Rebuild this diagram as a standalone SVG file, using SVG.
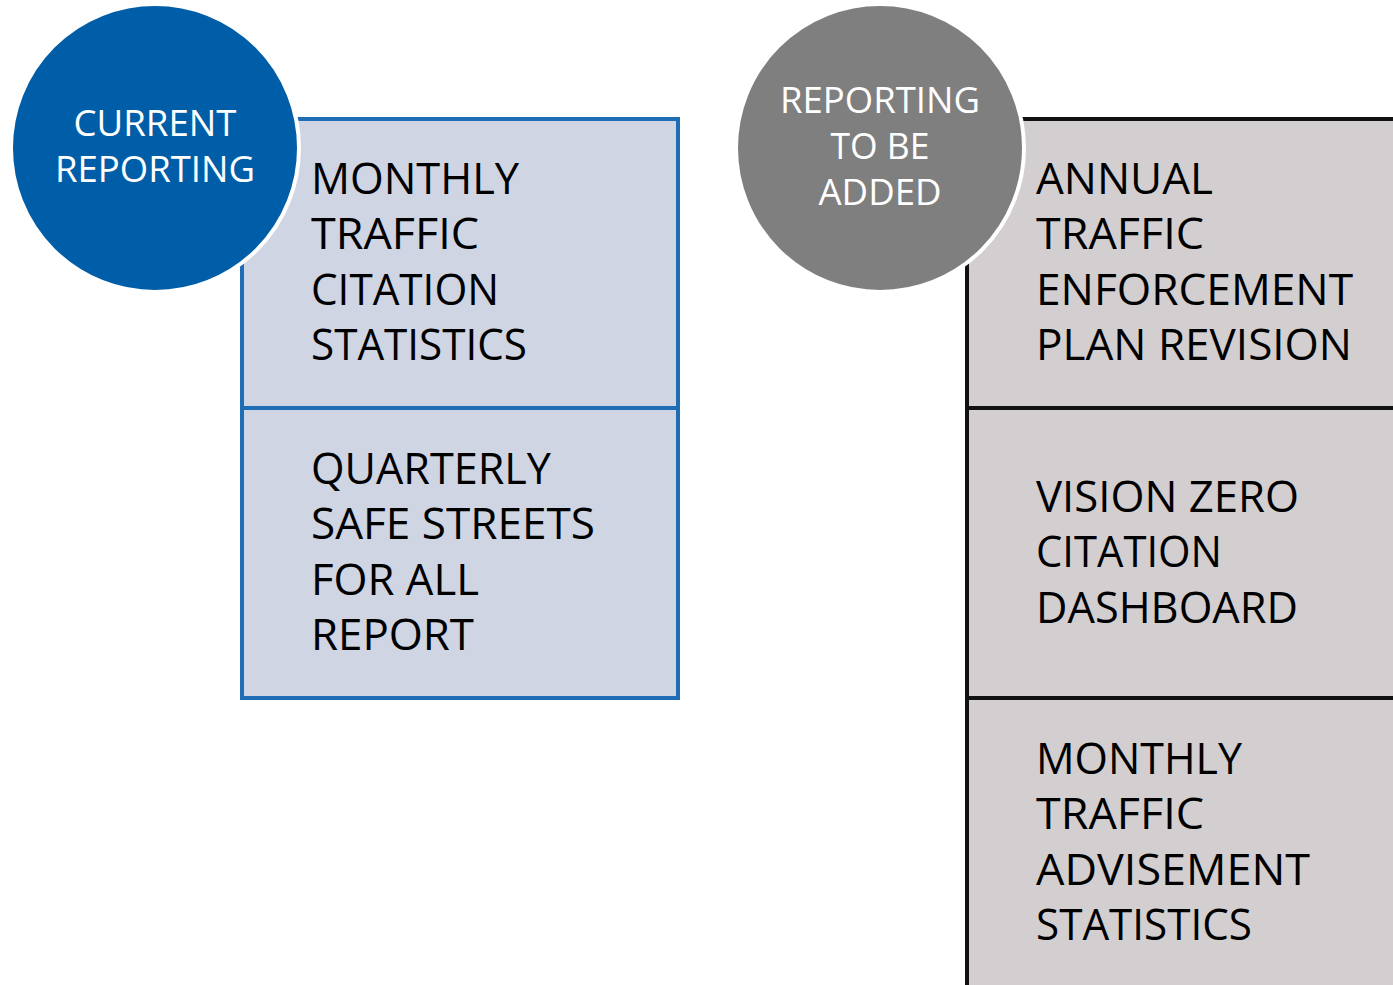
<svg xmlns="http://www.w3.org/2000/svg" width="1393" height="985" viewBox="0 0 1393 985">
<style>
.box-l{fill:#CFD5E3;stroke:#1F6EB5;stroke-width:4}
.box-r{fill:#D3CFD0;stroke:#111;stroke-width:4}
.t{font-family:"Open Sans","Liberation Sans",sans-serif;font-size:44px;fill:#000}
.c{font-family:"Open Sans","Liberation Sans",sans-serif;font-size:36px;fill:#fff;text-anchor:middle}
.circ{stroke:#fff;stroke-width:4}
</style>
<rect width="1393" height="985" fill="#fff"/>
<g id="connectors"/>
<g id="box-monthly-citation">
<rect class="box-l" x="242" y="119" width="436" height="289"/>
<text class="t"><tspan x="311" y="194" textLength="208" lengthAdjust="spacingAndGlyphs">MONTHLY</tspan><tspan x="311" y="249" textLength="168" lengthAdjust="spacingAndGlyphs">TRAFFIC</tspan><tspan x="311" y="305" textLength="188" lengthAdjust="spacingAndGlyphs">CITATION</tspan><tspan x="311" y="360" textLength="216" lengthAdjust="spacingAndGlyphs">STATISTICS</tspan></text>
</g>
<g id="box-quarterly">
<rect class="box-l" x="242" y="408" width="436" height="290"/>
<text class="t"><tspan x="311" y="484" textLength="240" lengthAdjust="spacingAndGlyphs">QUARTERLY</tspan><tspan x="311" y="539" textLength="284" lengthAdjust="spacingAndGlyphs">SAFE STREETS</tspan><tspan x="311" y="595" textLength="168" lengthAdjust="spacingAndGlyphs">FOR ALL</tspan><tspan x="311" y="650" textLength="163" lengthAdjust="spacingAndGlyphs">REPORT</tspan></text>
</g>
<g id="circle-current">
<circle class="circ" cx="155" cy="148" r="144" fill="#005EA8"/>
<text class="c"><tspan x="155" y="136" textLength="163" lengthAdjust="spacingAndGlyphs">CURRENT</tspan><tspan x="155" y="182" textLength="200" lengthAdjust="spacingAndGlyphs">REPORTING</tspan></text>
</g>
<g id="box-annual">
<rect class="box-r" x="967" y="119" width="440" height="289"/>
<text class="t"><tspan x="1036" y="194" textLength="177" lengthAdjust="spacingAndGlyphs">ANNUAL</tspan><tspan x="1036" y="249" textLength="168" lengthAdjust="spacingAndGlyphs">TRAFFIC</tspan><tspan x="1036" y="305" textLength="317" lengthAdjust="spacingAndGlyphs">ENFORCEMENT</tspan><tspan x="1036" y="360" textLength="316" lengthAdjust="spacingAndGlyphs">PLAN REVISION</tspan></text>
</g>
<g id="box-vision-zero">
<rect class="box-r" x="967" y="408" width="440" height="290"/>
<text class="t"><tspan x="1036" y="512" textLength="263" lengthAdjust="spacingAndGlyphs">VISION ZERO</tspan><tspan x="1036" y="567" textLength="186" lengthAdjust="spacingAndGlyphs">CITATION</tspan><tspan x="1036" y="623" textLength="262" lengthAdjust="spacingAndGlyphs">DASHBOARD</tspan></text>
</g>
<g id="box-advisement">
<rect class="box-r" x="967" y="698" width="440" height="300"/>
<text class="t"><tspan x="1036" y="774" textLength="206" lengthAdjust="spacingAndGlyphs">MONTHLY</tspan><tspan x="1036" y="829" textLength="168" lengthAdjust="spacingAndGlyphs">TRAFFIC</tspan><tspan x="1036" y="885" textLength="274" lengthAdjust="spacingAndGlyphs">ADVISEMENT</tspan><tspan x="1036" y="940" textLength="216" lengthAdjust="spacingAndGlyphs">STATISTICS</tspan></text>
</g>
<g id="circle-to-be-added">
<circle class="circ" cx="880" cy="148" r="144" fill="#7F7F7F"/>
<text class="c"><tspan x="880" y="113" textLength="200" lengthAdjust="spacingAndGlyphs">REPORTING</tspan><tspan x="880" y="159" textLength="99" lengthAdjust="spacingAndGlyphs">TO BE</tspan><tspan x="880" y="205" textLength="123" lengthAdjust="spacingAndGlyphs">ADDED</tspan></text>
</g>
</svg>
